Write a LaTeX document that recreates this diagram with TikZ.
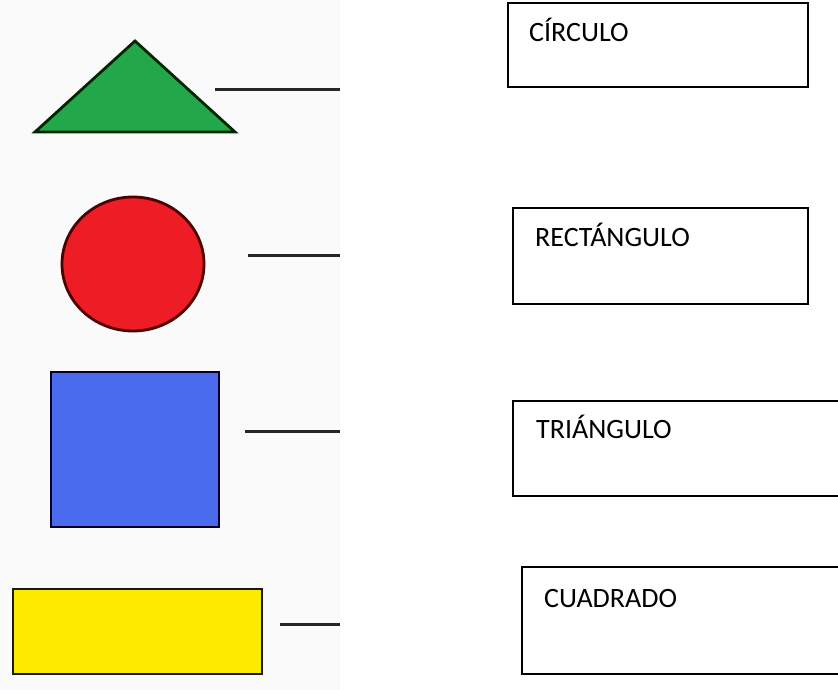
\documentclass[tikz,border=0pt]{standalone}
\usepackage{fontspec}
\newfontfamily\lab{Carlito}
\definecolor{tgreen}{HTML}{22A84A}
\definecolor{cred}{HTML}{EE1C24}
\definecolor{sblue}{HTML}{4A6BEE}
\definecolor{ryellow}{HTML}{FCEA00}
\definecolor{imgbg}{HTML}{FAFAFA}
\tikzset{
  shapeline/.style={line width=2.8pt, line join=miter},
  wire/.style={line width=3pt, draw=black!85},
  answerbox/.style={draw=black, line width=1.8pt},
  answertext/.style={anchor=base west, inner sep=0pt, font=\lab\fontsize{28}{33}\selectfont}
}
\begin{document}
\begin{tikzpicture}[x=1pt,y=-1pt]
\useasboundingbox (0,0) rectangle (838,690);
\clip (0,0) rectangle (838,690);
\fill[white] (0,0) rectangle (838,690);
\fill[imgbg] (0,0) rectangle (340,690);
% shapes
\draw[shapeline, fill=tgreen, draw=black!85!green] (135,41) -- (235,132) -- (35,132) -- cycle;
\draw[shapeline, fill=cred, draw=black!70!red] (133,264) ellipse (71 and 67);
\draw[shapeline, fill=sblue, draw=black!85!blue] (51,372) rectangle (219,527);
\draw[shapeline, fill=ryellow, draw=black!90] (13,589) rectangle (262,674);
% lines
\coordinate (l1a) at (215,90);  \coordinate (l1b) at (340,90);
\coordinate (l2a) at (248,255); \coordinate (l2b) at (340,255);
\coordinate (l3a) at (245,431); \coordinate (l3b) at (340,431);
\coordinate (l4a) at (280,624); \coordinate (l4b) at (340,624);
\draw[wire] (l1a) -- (l1b);
\draw[wire] (l2a) -- (l2b);
\draw[wire] (l3a) -- (l3b);
\draw[wire] (l4a) -- (l4b);
% answer boxes
\draw[answerbox] (508,3) rectangle (808,87);
\draw[answerbox] (513,208) rectangle (808,304);
\draw[answerbox] (513,401) rectangle (850,496);
\draw[answerbox] (522,567) rectangle (850,674);
\node[answertext] (t1) at (529,41.5) {CÍRCULO};
\node[answertext] (t2) at (535,246) {RECTÁNGULO};
\node[answertext] (t3) at (536,438) {TRIÁNGULO};
\node[answertext] (t4) at (544,607) {CUADRADO};
\end{tikzpicture}
\end{document}
